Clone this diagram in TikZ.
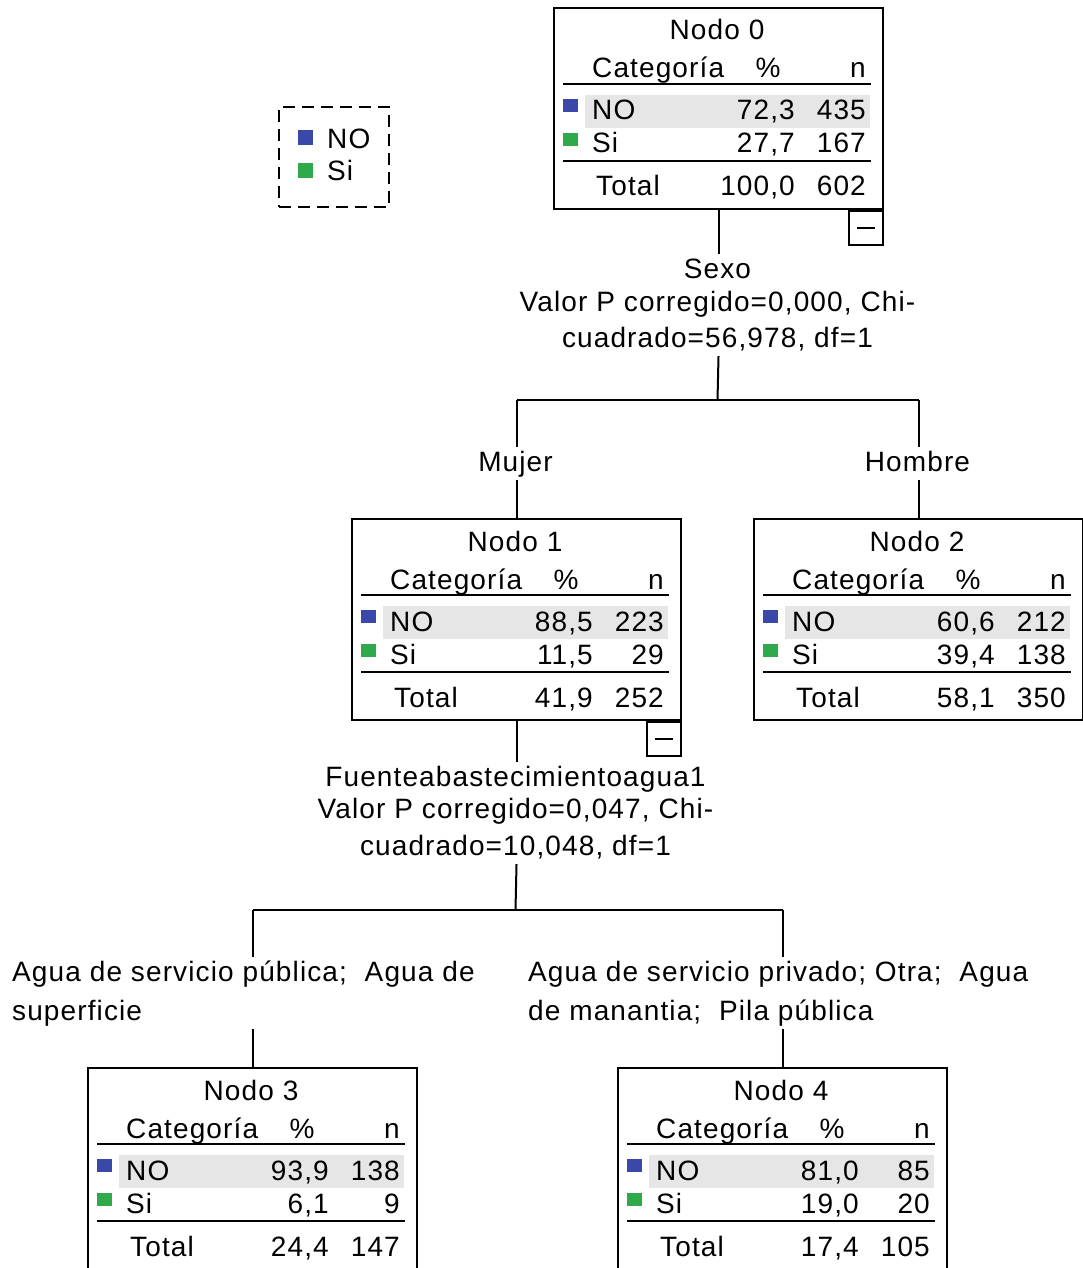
\documentclass[tikz,border=0pt]{standalone}
\usepackage{fontspec}
\setmainfont{Liberation Sans}[LetterSpace=4]
\definecolor{noblue}{RGB}{58,72,170}
\definecolor{sigreen}{RGB}{46,170,74}
\definecolor{rowgray}{RGB}{230,230,230}
\tikzset{
 txt/.style={inner sep=0pt, font=\fontsize{28}{33}\selectfont},
 lbl/.style={inner sep=2pt, text height=22pt, text depth=7pt, font=\fontsize{28}{33}\selectfont},
 box/.style={draw, line width=2pt, minimum width=329pt, minimum height=201pt, inner sep=0pt, anchor=north west},
 rulel/.style={line width=2pt},
 conn/.style={line width=2pt},
 collapse/.style={draw, line width=2pt, minimum size=34pt, inner sep=0pt, anchor=north east},
}
\newcommand{\tnode}[9]{%
 \begin{scope}[shift={(#2)}]
  \fill[rowgray] (32,88) rectangle (317,121);
  \node[box] (#1) at (0,0) {};
  \node[txt,anchor=base] (#1t) at (164,33) {Nodo #3};
  \node[txt,anchor=base west] (#1c) at (39,71) {Categoría};
  \node[txt,anchor=base] (#1p) at (215,71) {\%};
  \node[txt,anchor=base east] (#1n) at (313,71) {n};
  \draw[rulel] (10,77) -- (318,77);
  \fill[noblue] (10,92) rectangle (25,105);
  \node[txt,anchor=base west] (#1a) at (39,113) {NO};
  \node[txt,anchor=base east] (#1ap) at (242,113) {#4};
  \node[txt,anchor=base east] (#1an) at (313,113) {#5};
  \fill[sigreen] (10,126) rectangle (25,139);
  \node[txt,anchor=base west] (#1b) at (39,146) {Si};
  \node[txt,anchor=base east] (#1bp) at (242,146) {#6};
  \node[txt,anchor=base east] (#1bn) at (313,146) {#7};
  \draw[rulel] (10,154) -- (318,154);
  \node[txt,anchor=base west] (#1s) at (43,189) {Total};
  \node[txt,anchor=base east] (#1sp) at (242,189) {#8};
  \node[txt,anchor=base east] (#1sn) at (313,189) {#9};
 \end{scope}}
\begin{document}
\begin{tikzpicture}[x=1pt,y=-1pt]
\useasboundingbox (0,0) rectangle (1083,1268);
\fill[white] (0,0) rectangle (1083,1268);
\begin{scope}
\clip (0,0) rectangle (1083,1268);
% legend
\node[draw, line width=2pt, dash pattern=on 12pt off 7pt, minimum width=110pt, minimum height=100pt, anchor=north west, inner sep=0pt] (leg) at (278,106) {};
\fill[noblue] (298,130) rectangle (313,145);
\node[txt,anchor=base west] (legno) at (327,149) {NO};
\fill[sigreen] (298,163) rectangle (313,178);
\node[txt,anchor=base west] (legsi) at (327,181) {Si};
% nodes
\tnode{n0}{553,7}{0}{72,3}{435}{27,7}{167}{100,0}{602}
\tnode{n1}{351,518}{1}{88,5}{223}{11,5}{29}{41,9}{252}
\tnode{n2}{753,518}{2}{60,6}{212}{39,4}{138}{58,1}{350}
\tnode{n3}{87,1067}{3}{93,9}{138}{6,1}{9}{24,4}{147}
\tnode{n4}{617,1067}{4}{81,0}{85}{19,0}{20}{17,4}{105}
\node[collapse] (n0m) at (n0.south east) {\rule{18pt}{2pt}};
\node[collapse] (n1m) at (n1.south east) {\rule{18pt}{2pt}};
% split 0
\node[lbl,anchor=base] (s0a) at (717.5,278) {Sexo};
\node[lbl,anchor=base] (s0b) at (717.5,311) {Valor P corregido=0,000, Chi-};
\node[lbl,anchor=base] (s0c) at (717.5,347) {cuadrado=56,978, df=1};
\coordinate (j0) at (717.5,400);
\node[lbl,anchor=base] (m1) at (515.5,471) {Mujer};
\node[lbl,anchor=base] (m2) at (917.5,471) {Hombre};
\draw[conn] (n0.south) -- (n0.south |- s0a.north);
\draw[conn] (n0.south |- s0c.south) -- (j0);
\draw[conn] (n1.north |- j0) -- (n2.north |- j0);
\draw[conn] (n1.north |- j0) -- (n1.north |- m1.north);
\draw[conn] (n1.north |- m1.south) -- (n1.north);
\draw[conn] (n2.north |- j0) -- (n2.north |- m2.north);
\draw[conn] (n2.north |- m2.south) -- (n2.north);
% split 1
\node[lbl,anchor=base] (f1a) at (515.5,786) {Fuenteabastecimientoagua1};
\node[lbl,anchor=base] (f1b) at (515.5,818) {Valor P corregido=0,047, Chi-};
\node[lbl,anchor=base] (f1c) at (515.5,855) {cuadrado=10,048, df=1};
\coordinate (j1) at (515.5,910);
\node[lbl,anchor=base west] (a3) at (10,981) {Agua de servicio pública;~ Agua de};
\node[lbl,anchor=base west] (a3b) at (10,1020) {superficie};
\node[lbl,anchor=base west] (a4) at (526,981) {Agua de servicio privado; Otra;~ Agua};
\node[lbl,anchor=base west] (a4b) at (526,1020) {de manantia;~ Pila pública};
\draw[conn] (n1.south) -- (n1.south |- f1a.north);
\draw[conn] (n1.south |- f1c.south) -- (j1);
\draw[conn] (n3.north |- j1) -- (n4.north |- j1);
\draw[conn] (n3.north |- j1) -- (n3.north |- a3.north);
\draw[conn] (n3.north |- a3b.south) -- (n3.north);
\draw[conn] (n4.north |- j1) -- (n4.north |- a4.north);
\draw[conn] (n4.north |- a4b.south) -- (n4.north);
\end{scope}
\end{tikzpicture}
\end{document}
